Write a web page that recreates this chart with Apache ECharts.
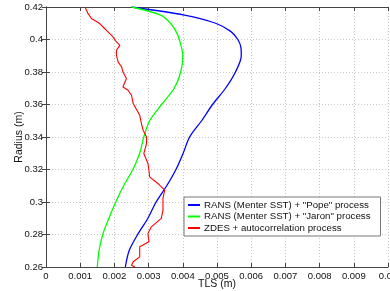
<!DOCTYPE html>
<html>
<head>
<meta charset="utf-8">
<script src="https://cdn.jsdelivr.net/npm/echarts@6/dist/echarts.min.js"></script>
<style>
html,body{margin:0;padding:0;background:#fff;}
#chartLine{width:390px;height:291px;}
</style>
</head>
<body>
<div id="chartLine"></div>
<script>
// [TLS, radius] pairs
var popeData = [
	[0.00250, 0.420], [0.00405, 0.415], [0.00496, 0.410], [0.00540, 0.405],
	[0.00561, 0.400], [0.00570, 0.395], [0.00571, 0.390], [0.00554, 0.380],
	[0.00525, 0.370], [0.00487, 0.360], [0.00455, 0.350], [0.00420, 0.340],
	[0.00401, 0.330], [0.00380, 0.320], [0.00353, 0.310], [0.00322, 0.300],
	[0.00298, 0.290], [0.00268, 0.280], [0.00243, 0.270], [0.00232, 0.260]
];
var jaronData = [
	[0.00250, 0.420], [0.00335, 0.415], [0.00364, 0.410], [0.00380, 0.405],
	[0.00390, 0.400], [0.00400, 0.390], [0.00394, 0.380], [0.00375, 0.370],
	[0.00338, 0.360], [0.00303, 0.350], [0.00286, 0.340], [0.00274, 0.330],
	[0.00254, 0.320], [0.00227, 0.310], [0.00204, 0.300], [0.00184, 0.290],
	[0.00166, 0.280], [0.00155, 0.270], [0.00150, 0.260]
];
var zdesData = [
	[0.00114, 0.4200], [0.00123, 0.4159], [0.00133, 0.4129], [0.00157, 0.4098],
	[0.00167, 0.4077], [0.00182, 0.4046], [0.00196, 0.4016], [0.00206, 0.3985],
	[0.00216, 0.3964], [0.00206, 0.3934], [0.00206, 0.3903], [0.00211, 0.3862],
	[0.00221, 0.3831], [0.00225, 0.3800], [0.00235, 0.3760], [0.00225, 0.3708],
	[0.00240, 0.3688], [0.00250, 0.3657], [0.00255, 0.3606], [0.00274, 0.3534],
	[0.00279, 0.3483], [0.00284, 0.3442], [0.00294, 0.3400], [0.00294, 0.3360],
	[0.00286, 0.3298], [0.00298, 0.3237], [0.00301, 0.3196], [0.00303, 0.3155],
	[0.00327, 0.3114], [0.00347, 0.3073], [0.00342, 0.3022], [0.00342, 0.2950],
	[0.00337, 0.2899], [0.00308, 0.2847], [0.00298, 0.2806], [0.00301, 0.2755],
	[0.00274, 0.2724], [0.00274, 0.2662], [0.00255, 0.2632], [0.00250, 0.2611],
	[0.00260, 0.2600]
];
var seriesNames = ['RANS (Menter SST) + "Pope" process', 'RANS (Menter SST) + "Jaron" process', 'ZDES + autocorrelation process'];
var xMin = 0, xMax = 0.01, xStep = 0.001;
var yMin = 0.26, yMax = 0.42, yStep = 0.02;

drawLine();
function drawLine(){
	var myChart = echarts.init(document.getElementById('chartLine'));
	var font = 'Liberation Sans, Arial, sans-serif';
	var frame = {lineStyle:{color:'#444', width:1}};
	var tick = {inside:true, length:4, lineStyle:{color:'#444'}};
	var grid = {show:true, lineStyle:{color:'#c8c8c8', type:[1,2], width:1}};
	var option = {
		animation:false,
		textStyle:{fontFamily:font},
		grid:{left:46, right:2, top:7, bottom:24, containLabel:false, outerBoundsMode:'none'},
		legend:{
			orient:'vertical',
			left:184, top:197,
			padding:[3,10,3,4],
			itemGap:1.5,
			itemWidth:12,
			itemHeight:2,
			icon:'rect',
			backgroundColor:'#fff',
			borderColor:'#777',
			borderWidth:1,
			borderRadius:0,
			textStyle:{fontSize:9.7, color:'#111', padding:[0,0,0,-1]},
			data:seriesNames
		},
		xAxis:[{
			type:'value', min:xMin, max:xMax, interval:xStep,
			name:'TLS (m)', nameLocation:'middle', nameGap:12, nameMoveOverlap:false,
			nameTextStyle:{fontSize:10.5, color:'#111'},
			axisLine:frame, axisTick:tick, splitLine:grid,
			axisLabel:{fontSize:9.5, color:'#111', margin:4}
		},{
			type:'value', min:xMin, max:xMax, interval:xStep, position:'top',
			axisLine:frame, axisTick:tick, splitLine:{show:false}, axisLabel:{show:false}
		}],
		yAxis:[{
			type:'value', min:yMin, max:yMax, interval:yStep,
			name:'Radius (m)', nameLocation:'middle', nameGap:21, nameMoveOverlap:false,
			nameTextStyle:{fontSize:10.5, color:'#111'},
			axisLine:frame, axisTick:tick, splitLine:grid,
			axisLabel:{fontSize:9.5, color:'#111', margin:3}
		},{
			type:'value', min:yMin, max:yMax, interval:yStep, position:'right',
			axisLine:frame, axisTick:tick, splitLine:{show:false}, axisLabel:{show:false}
		}],
		series:[
			{name:seriesNames[0], type:'line', showSymbol:false, smooth:0.3, data:popeData,
				itemStyle:{color:'#0000ff'}, lineStyle:{color:'#0000ff', width:1.3}},
			{name:seriesNames[1], type:'line', showSymbol:false, smooth:0.3, data:jaronData,
				itemStyle:{color:'#00ff00'}, lineStyle:{color:'#00ff00', width:1.3}},
			{name:seriesNames[2], type:'line', showSymbol:false, data:zdesData,
				itemStyle:{color:'#ff0000'}, lineStyle:{color:'#ff0000', width:1.1}}
		]
	};
	myChart.setOption(option);
}
</script>
</body>
</html>
